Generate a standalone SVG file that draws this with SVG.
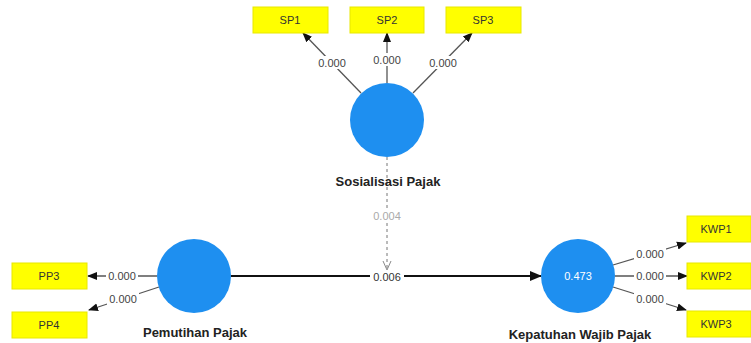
<svg xmlns="http://www.w3.org/2000/svg" width="751" height="343" viewBox="0 0 751 343">
<style>
.box{fill:#ffff00;stroke:#e8e800;stroke-width:1}
.boxt{font-family:"Liberation Sans",Arial,sans-serif;font-size:11px;fill:#333;text-anchor:middle}
.lv{fill:#1e8ff0}
.lvt{font-family:"Liberation Sans",Arial,sans-serif;font-size:13px;font-weight:bold;fill:#222;text-anchor:middle}
.ln{stroke:#555;stroke-width:1.3;fill:none}
.val{font-family:"Liberation Sans",Arial,sans-serif;font-size:11px;fill:#444;text-anchor:middle}
.bg{fill:#fff}
</style>
<defs>
<marker id="ah" markerWidth="10" markerHeight="10" refX="9" refY="5" orient="auto" markerUnits="userSpaceOnUse">
<path d="M0,1 L10,5 L0,9 Z" fill="#111"/>
</marker>
<marker id="ahm" markerWidth="12" markerHeight="12" refX="11" refY="6" orient="auto" markerUnits="userSpaceOnUse">
<path d="M0,1 L12,6 L0,11 Z" fill="#111"/>
</marker>
<marker id="ahd" markerWidth="10" markerHeight="10" refX="9" refY="5" orient="auto" markerUnits="userSpaceOnUse">
<path d="M0,1 L9,5 L0,9" fill="none" stroke="#888" stroke-width="1"/>
</marker>
</defs>
<g id="connectors">
<line class="ln" x1="361" y1="93" x2="303" y2="33" marker-end="url(#ah)"/>
<line class="ln" x1="387" y1="83" x2="387" y2="33" marker-end="url(#ah)"/>
<line class="ln" x1="413" y1="93" x2="472" y2="33" marker-end="url(#ah)"/>
<line class="ln" x1="157" y1="276" x2="88" y2="276" marker-end="url(#ah)"/>
<line class="ln" x1="159" y1="287" x2="89" y2="310" marker-end="url(#ah)"/>
<line class="ln" x1="613" y1="265" x2="686" y2="243" marker-end="url(#ah)"/>
<line class="ln" x1="615" y1="276" x2="687" y2="276" marker-end="url(#ah)"/>
<line class="ln" x1="613" y1="287" x2="686" y2="310" marker-end="url(#ah)"/>
<line x1="231" y1="276" x2="541" y2="276" stroke="#111" stroke-width="2" marker-end="url(#ahm)"/>
<line x1="387" y1="157" x2="387" y2="270" stroke="#777" stroke-width="1" stroke-dasharray="3,3" marker-end="url(#ahd)"/>
<rect class="bg" x="316" y="56" width="32" height="13"/><text class="val" x="332" y="67">0.000</text>
<rect class="bg" x="371" y="53" width="32" height="13"/><text class="val" x="387" y="64">0.000</text>
<rect class="bg" x="427" y="56" width="32" height="13"/><text class="val" x="443" y="67">0.000</text>
<rect class="bg" x="106" y="270" width="32" height="13"/><text class="val" x="122" y="280">0.000</text>
<rect class="bg" x="107" y="293" width="32" height="13"/><text class="val" x="123" y="303">0.000</text>
<rect class="bg" x="634" y="247" width="32" height="13"/><text class="val" x="650" y="258">0.000</text>
<rect class="bg" x="634" y="270" width="32" height="13"/><text class="val" x="650" y="280">0.000</text>
<rect class="bg" x="634" y="293" width="32" height="13"/><text class="val" x="650" y="303">0.000</text>
<rect class="bg" x="371" y="209" width="32" height="13"/><text class="val" x="387" y="220" fill="#aaa" style="fill:#aaa">0.004</text>
<rect class="bg" x="370" y="270" width="34" height="13"/><text class="val" x="387" y="281" style="fill:#333">0.006</text>
</g>
<g id="SP1"><rect class="box" x="253" y="7" width="75" height="26"/><text class="boxt" x="290" y="24">SP1</text></g>
<g id="SP2"><rect class="box" x="350" y="7" width="74" height="26"/><text class="boxt" x="387" y="24">SP2</text></g>
<g id="SP3"><rect class="box" x="446" y="7" width="75" height="26"/><text class="boxt" x="483" y="24">SP3</text></g>
<g id="PP3"><rect class="box" x="12" y="263" width="75" height="26"/><text class="boxt" x="49" y="280">PP3</text></g>
<g id="PP4"><rect class="box" x="12" y="312" width="75" height="26"/><text class="boxt" x="49" y="329">PP4</text></g>
<g id="KWP1"><rect class="box" x="687" y="216" width="64" height="26"/><text class="boxt" x="716" y="233">KWP1</text></g>
<g id="KWP2"><rect class="box" x="687" y="263" width="64" height="26"/><text class="boxt" x="716" y="280">KWP2</text></g>
<g id="KWP3"><rect class="box" x="687" y="311" width="64" height="26"/><text class="boxt" x="716" y="328">KWP3</text></g>
<g id="SosialisasiPajak"><circle class="lv" cx="387" cy="120" r="37"/><text class="lvt" x="388" y="186">Sosialisasi Pajak</text></g>
<g id="PemutihanPajak"><circle class="lv" cx="194" cy="276" r="37"/><text class="lvt" x="195" y="337">Pemutihan Pajak</text></g>
<g id="KepatuhanWajibPajak"><circle class="lv" cx="578" cy="276" r="37"/><text x="578" y="280" style="font-family:'Liberation Sans',Arial,sans-serif;font-size:11px;fill:#fff;text-anchor:middle">0.473</text><text class="lvt" x="580" y="339">Kepatuhan Wajib Pajak</text></g>
</svg>
